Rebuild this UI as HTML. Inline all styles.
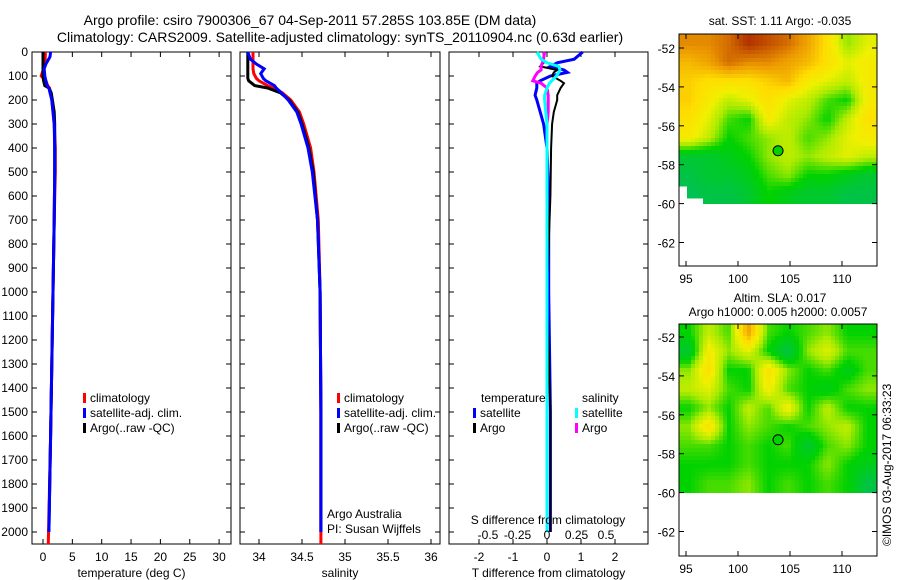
<!DOCTYPE html>
<html><head><meta charset="utf-8"><style>
html,body{margin:0;padding:0;background:#fff;}
svg{display:block;font-family:"Liberation Sans",sans-serif;}
text{font-size:12px;fill:#000;}
</style></head><body>
<svg id="c" width="900" height="580" xmlns="http://www.w3.org/2000/svg">
<text x="310" y="25" text-anchor="middle" style="font-size:14px">Argo profile: csiro 7900306_67 04-Sep-2011 57.285S 103.85E (DM data)</text>
<text x="340" y="42" text-anchor="middle" style="font-size:14px">Climatology: CARS2009. Satellite-adjusted climatology: synTS_20110904.nc (0.63d earlier)</text>
<text x="780" y="25" text-anchor="middle">sat. SST: 1.11 Argo: -0.035</text>
<text x="780" y="302" text-anchor="middle">Altim. SLA: 0.017</text>
<text x="778" y="316" text-anchor="middle">Argo h1000: 0.005 h2000: 0.0057</text>
<text transform="translate(891,546) rotate(-90)">©IMOS 03-Aug-2017 06:33:23</text>
</svg>
<script>
// ---- data ----
const depthT = [0,20,50,70,100,120,140,150,170,200,250,300,400,500,700,1000,1300,1600,2000];
const tempArgo = [0.0,0.0,0.0,0.0,0.0,0.1,0.3,1.0,1.4,1.6,1.9,2.0,2.0,2.0,1.9,1.7,1.5,1.3,1.0];
const tempSat  = [1.3,1.2,0.5,0.2,0.3,0.5,0.7,1.0,1.2,1.5,1.7,1.9,2.0,2.0,1.9,1.7,1.5,1.3,1.0];
const tempClim = [0.4,0.4,0.3,0.1,-0.3,0.5,0.8,1.1,1.3,1.5,1.7,1.9,2.1,2.1,1.9,1.7,1.5,1.3,0.9];
const depthS = [0,30,50,70,90,110,120,140,150,170,200,250,300,400,500,700,1000,1500,2000];
const salArgo = [33.87,33.87,33.87,33.87,33.87,33.87,33.88,33.95,34.1,34.25,34.35,34.45,34.5,34.58,34.63,34.68,34.71,34.72,34.72];
const salSat  = [33.87,33.9,33.97,34.06,34.02,34.05,34.08,34.18,34.2,34.26,34.34,34.44,34.49,34.57,34.62,34.68,34.71,34.72,34.72];
const salClim = [33.93,33.93,33.93,33.93,33.94,33.97,34.0,34.1,34.17,34.27,34.37,34.47,34.52,34.6,34.64,34.69,34.71,34.72,34.72];
const depthD = [0,30,45,60,75,85,100,120,130,150,180,200,250,300,400,600,1000,1500,2000];
const dTsat  = [1.05,0.8,0.3,0.1,0.5,0.6,0.1,-0.2,-0.3,-0.3,-0.35,-0.3,-0.2,-0.1,0.0,0.05,0.05,0.1,0.1];
const dTargo = [-0.1,-0.1,-0.1,-0.2,0.3,0.2,0.15,0.4,0.5,0.4,0.3,0.3,0.2,0.15,0.12,0.1,0.0,0.1,0.1];
const dSsat  = [-0.085,-0.05,0.0,0.1,0.11,0.1,0.08,0.04,0.02,0.0,-0.02,-0.02,-0.01,0.0,0.0,0.0,0.0,0.0,0.0];
const dSargo = [-0.02,-0.03,-0.04,-0.05,-0.05,-0.08,-0.1,-0.12,-0.05,0.0,0.01,0.01,0.01,0.0,0.0,0.0,0.0,0.0,0.0];
const depthTicks = [0,100,200,300,400,500,600,700,800,900,1000,1100,1200,1300,1400,1500,1600,1700,1800,1900,2000];
const tempTicks = [0,5,10,15,20,25,30];
const salTicks = ["34","34.5","35","35.5","36"];
const dTTicks = [-2,-1,0,1,2];
const dSTicks = ["-0.5","-0.25","0","0.25","0.5"];
const lonTicks = [95,100,105,110];
const latTicks = [-52,-54,-56,-58,-60,-62];
const sstGrid = [
[0.8,0.8,0.85,0.95,0.9,0.85,0.75,0.6,0.4,0.5],
[0.7,0.75,0.85,0.8,0.8,0.75,0.7,0.6,0.5,0.55],
[0.65,0.6,0.6,0.6,0.65,0.7,0.55,0.5,0.45,0.55],
[0.65,0.55,0.45,0.5,0.6,0.5,0.45,0.35,0.3,0.55],
[0.6,0.5,0.35,0.3,0.55,0.45,0.4,0.3,0.45,0.6],
[0.55,0.45,0.3,0.35,0.4,0.45,0.35,0.4,0.5,0.55],
[0.2,0.2,0.25,0.3,0.4,0.45,0.4,0.45,0.5,0.45],
[0.15,0.2,0.2,0.25,0.35,0.4,0.3,0.3,0.25,0.2],
[0.12,0.15,0.15,0.2,0.3,0.25,0.2,0.2,0.15,0.15]];
const slaGrid = [
[0.3,0.45,0.35,0.75,0.35,0.3,0.35,0.4,0.3,0.3],
[0.2,0.55,0.4,0.5,0.3,0.15,0.4,0.5,0.35,0.35],
[0.4,0.6,0.3,0.3,0.6,0.4,0.3,0.35,0.25,0.35],
[0.45,0.5,0.35,0.3,0.55,0.35,0.3,0.25,0.35,0.4],
[0.3,0.4,0.3,0.45,0.35,0.55,0.3,0.45,0.3,0.3],
[0.4,0.6,0.3,0.4,0.35,0.3,0.35,0.4,0.45,0.3],
[0.35,0.35,0.3,0.35,0.3,0.35,0.2,0.35,0.4,0.3],
[0.3,0.3,0.3,0.35,0.3,0.3,0.3,0.4,0.3,0.25],
[0.3,0.35,0.35,0.4,0.3,0.35,0.3,0.35,0.3,0.15]];
const floatLon = 103.85, floatLat = -57.285;

const svg = document.getElementById('c');
const NS = 'http://www.w3.org/2000/svg';
function mk(tag, attrs, parent){const e=document.createElementNS(NS,tag);for(const k in attrs)e.setAttribute(k,attrs[k]);(parent||svg).appendChild(e);return e;}
function txt(x,y,s,anchor,parent){const e=mk('text',{x:x,y:y,'text-anchor':anchor||'start'},parent);e.textContent=s;return e;}

const PT=52, PB=556;
const yD = d => 52 + d*0.24;
function panel(name,x0,x1,xs,ticks,labels,title){
  const g=mk('g',{});
  
  
  const r=mk('rect',{x:x0,y:PT,width:x1-x0,height:544-PT,fill:'none',stroke:'#000','stroke-width':1},g);
  
  
  depthTicks.forEach(d=>{const y=yD(d);mk('line',{x1:x0,x2:x0+5,y1:y,y2:y,stroke:'#000'},g);mk('line',{x1:x1-5,x2:x1,y1:y,y2:y,stroke:'#000'},g);});
  ticks.forEach((v,i)=>{const x=xs(+v);mk('line',{x1:x,x2:x,y1:544,y2:539,stroke:'#000'},g);mk('line',{x1:x,x2:x,y1:PT,y2:PT+5,stroke:'#000'},g);
    const t=txt(x,561,labels[i],'middle',g);});
  const at=txt((x0+x1)/2,577,title,'middle',g);
  
  
  return g;
}
function line(g,xs,vals,deps,color,w,name){
  const p=vals.map((v,i)=>xs(v).toFixed(1)+','+yD(deps[i]).toFixed(1)).join(' ');
  const e=mk('polyline',{points:p,fill:'none',stroke:color,'stroke-width':w},g);
  
  
}
function legendEntry(g,x,y,color,label,name){
  const e=mk('g',{},g);
  
  
  mk('rect',{x:x,y:y-9,width:3,height:10,fill:color},e);
  txt(x+7,y,label,'start',e);
}
depthTicks.forEach(d=>{const t=txt(28,yD(d)+4,String(d),'end');});

const xT=v=>43+v*5.87;
const g1=panel('temperature-panel',32,231,xT,tempTicks,tempTicks.map(String),'temperature (deg C)');
line(g1,xT,tempClim,depthT.map((d,i)=>i==depthT.length-1?2050:d),'#f00',3,'temp-climatology-line');
line(g1,xT,tempArgo,depthT,'#000',3,'temp-argo-line');
line(g1,xT,tempSat,depthT,'#00f',3,'temp-satellite-line');
legendEntry(g1,83,402,'#f00','climatology','legend-climatology');
legendEntry(g1,83,417,'#00f','satellite-adj. clim.','legend-satellite');
legendEntry(g1,83,432,'#000','Argo(..raw -QC)','legend-argo');

const xS=v=>259+(v-34)*86;
const g2=panel('salinity-panel',240,440,xS,salTicks,salTicks,'salinity');
line(g2,xS,salClim,depthS.map((d,i)=>i==depthS.length-1?2050:d),'#f00',3,'sal-climatology-line');
line(g2,xS,salArgo,depthS,'#000',3,'sal-argo-line');
line(g2,xS,salSat,depthS,'#00f',3,'sal-satellite-line');
legendEntry(g2,337,402,'#f00','climatology','legend-climatology');
legendEntry(g2,337,417,'#00f','satellite-adj. clim.','legend-satellite');
legendEntry(g2,337,432,'#000','Argo(..raw -QC)','legend-argo');
txt(327,518,'Argo Australia','start',g2);
txt(327,533,'PI: Susan Wijffels','start',g2);

const xDT=v=>547+v*34;
const xDS=v=>547+v*118;
const g3=panel('difference-panel',449,648,xDT,dTTicks,dTTicks.map(String),'T difference from climatology');
line(g3,xDT,dTsat,depthD,'#00f',3,'dT-satellite-line');
line(g3,xDT,dTargo,depthD,'#000',2,'dT-argo-line');
line(g3,xDS,dSargo,depthD,'#f0f',3,'dS-argo-line');
line(g3,xDS,dSsat,depthD,'#0ff',3,'dS-satellite-line');
dSTicks.forEach(v=>{const t=txt(xDS(+v),539,v,'middle',g3);});
const sdt=txt(548,524,'S difference from climatology','middle',g3);


txt(481,402,'temperature','start',g3);
txt(582,402,'salinity','start',g3);
legendEntry(g3,473,417,'#00f','satellite','legend-t-satellite');
legendEntry(g3,473,432,'#000','Argo','legend-t-argo');
legendEntry(g3,575,417,'#0ff','satellite','legend-s-satellite');
legendEntry(g3,575,432,'#f0f','Argo','legend-s-argo');

function cmap(v){
  const stops=[[0,[0,185,150]],[0.15,[0,195,70]],[0.3,[0,210,0]],[0.42,[170,235,0]],[0.52,[240,240,0]],[0.62,[255,220,0]],[0.78,[235,150,0]],[1,[160,20,0]]];
  v=Math.max(0,Math.min(1,v));
  for(let i=1;i<stops.length;i++){if(v<=stops[i][0]){const a=stops[i-1],b=stops[i],t=(v-a[0])/(b[0]-a[0]);
    return 'rgb('+a[1].map((c,k)=>Math.round(c+(b[1][k]-c)*t)).join(',')+')';}}
  return 'rgb(160,20,0)';
}
function map(name,grid,top,lat52y,cut){
  const g=mk('g',{});
  
  
  const L=679,R=877,B=top+232;
  const xL=lon=>686+(lon-95)*10.4;
  const yL=lat=>lat52y+(-52-lat)*19.45;
  const lon0=94.33,lon1=113.4,lat0=-51.3,lat1=-60;
  const rows=grid.length,cols=grid[0].length,cs=4;
  const yTop=Math.round(top), yBot=Math.round(yL(lat1));
  for(let y=yTop;y<yBot;y+=cs){
    for(let x=L;x<R;x+=cs){
      const lon=lon0+(x+cs/2-L)/(R-L)*(lon1-lon0), lat=-52-((y+cs/2)-lat52y)/19.45;
      if(cut && cut(lon,lat)) continue;
      let fx=(lon-lon0)/(lon1-lon0)*cols-0.5, fy=(lat0-lat)/(lat0-lat1)*rows-0.5;
      fx=Math.max(0,Math.min(cols-1.001,fx)); fy=Math.max(0,Math.min(rows-1.001,fy));
      const i=Math.floor(fy),j=Math.floor(fx),ty=fy-i,tx=fx-j;
      const v=grid[i][j]*(1-tx)*(1-ty)+grid[i][j+1]*tx*(1-ty)+grid[i+1][j]*(1-tx)*ty+grid[i+1][j+1]*tx*ty;
      const c=mk('rect',{x:x,y:y,width:Math.min(cs,R-x)+0.5,height:Math.min(cs,yBot-y)+(y+cs<yBot?0.5:0),fill:cmap(v)},g);
      
      
    }
  }
  mk('rect',{x:L,y:top,width:R-L,height:B-top,fill:'none',stroke:'#000'},g);
  lonTicks.forEach(l=>{const x=xL(l);mk('line',{x1:x,x2:x,y1:B,y2:B-5,stroke:'#000'},g);mk('line',{x1:x,x2:x,y1:top,y2:top+5,stroke:'#000'},g);txt(x,B+17,String(l),'middle',g);});
  latTicks.forEach(l=>{const y=yL(l);mk('line',{x1:L,x2:L+5,y1:y,y2:y,stroke:'#000'},g);mk('line',{x1:R-5,x2:R,y1:y,y2:y,stroke:'#000'},g);txt(L-4,y+5,String(l),'end',g);});
  const f=mk('circle',{cx:xL(floatLon),cy:yL(floatLat),r:5,fill:cmap(0.3),stroke:'#000','stroke-width':1},g);
  
  
}
map('sst-map',sstGrid,34,48,(lon,lat)=>(lat<-59.1&&lon<95.0)||(lat<-59.7&&lon<96.6));
map('sla-map',slaGrid,324,337,null);
</script>
</body></html>
